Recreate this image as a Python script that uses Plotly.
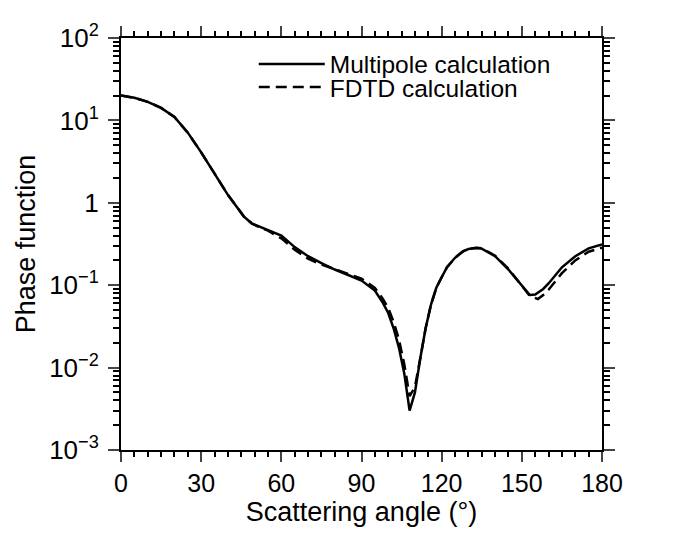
import numpy as np
import plotly.graph_objects as go

# Scattering angle (degrees)
angle_multipole = [0, 5, 10, 15, 20, 25, 30, 35, 40, 43, 46, 49, 52, 55, 60, 65, 70, 75, 80, 85, 90,
                   95, 98, 100, 102, 104, 106, 108, 110, 112, 114, 116, 118, 120, 122, 125,
                   128, 130, 133, 135, 140, 145, 150, 153, 155, 158, 160, 165, 170, 175, 180]
phase_multipole = [20.0, 18.8, 16.8, 14.2, 11.0, 7.1, 4.1, 2.25, 1.25, 0.92, 0.68, 0.56, 0.51, 0.475, 0.40,
                   0.29, 0.225, 0.185, 0.155, 0.133, 0.114, 0.086, 0.061, 0.046, 0.030, 0.0175,
                   0.0085, 0.0030, 0.0050, 0.013, 0.030, 0.058, 0.093, 0.125, 0.165, 0.215,
                   0.258, 0.275, 0.283, 0.278, 0.225, 0.155, 0.100, 0.076, 0.077, 0.090, 0.105,
                   0.165, 0.225, 0.280, 0.312]

angle_fdtd = [0, 5, 10, 15, 20, 25, 30, 35, 40, 43, 46, 49, 52, 55, 60, 65, 70, 75, 80, 85, 90,
              95, 98, 100, 102, 104, 106, 108, 110, 112, 114, 116, 118, 120, 122, 125,
              128, 130, 133, 135, 140, 145, 150, 153, 156, 158, 160, 165, 170, 175, 180]
phase_fdtd = [20.0, 18.8, 16.8, 14.2, 11.0, 7.1, 4.1, 2.25, 1.25, 0.92, 0.68, 0.56, 0.50, 0.46, 0.37,
              0.27, 0.21, 0.178, 0.155, 0.137, 0.120, 0.093, 0.068, 0.053, 0.036, 0.022,
              0.011, 0.0045, 0.0058, 0.013, 0.030, 0.058, 0.093, 0.125, 0.165, 0.215,
              0.258, 0.276, 0.285, 0.280, 0.228, 0.158, 0.100, 0.074, 0.068, 0.076, 0.088,
              0.140, 0.200, 0.255, 0.286]

x_ticks = [0, 30, 60, 90, 120, 150, 180]
y_tickvals = [1e2, 1e1, 1, 1e-1, 1e-2, 1e-3]
y_ticktext = ["10<sup>2</sup>", "10<sup>1</sup>", "1", "10<sup>\u22121</sup>",
              "10<sup>\u22122</sup>", "10<sup>\u22123</sup>"]

FONT = "Liberation Sans, Arial, sans-serif"

fig = go.Figure()
fig.add_trace(go.Scatter(x=angle_multipole, y=phase_multipole, mode="lines",
                         name="Multipole calculation", legend="legend",
                         line=dict(color="black", width=2.5)))
fig.add_trace(go.Scatter(x=angle_fdtd, y=phase_fdtd, mode="lines",
                         name="FDTD calculation", legend="legend2",
                         line=dict(color="black", width=2.5, dash="11px,6px")))

minor_y = [m * 10.0 ** e for e in range(-3, 2) for m in range(2, 10)]

leg_common = dict(xanchor="left", yanchor="middle", bgcolor="rgba(0,0,0,0)",
                  font=dict(size=24.5), itemwidth=66)

fig.update_layout(
    width=680, height=535,
    margin=dict(l=113, r=86, t=13, b=93),
    paper_bgcolor="white", plot_bgcolor="white",
    font=dict(family=FONT, size=25, color="black"),
    showlegend=True,
    legend=dict(x=0.276, y=0.937, **leg_common),
    legend2=dict(x=0.276, y=0.881, **leg_common),
    xaxis=dict(range=[0, 180], tickvals=x_ticks, ticks="outside", ticklen=10,
               tickwidth=2, showline=True, linewidth=2, linecolor="black",
               mirror="ticks", showgrid=False, zeroline=False,
               tickfont=dict(size=25),
               title=dict(text="Scattering angle (\u00b0)", font=dict(size=27), standoff=3),
               minor=dict(dtick=5, ticks="outside", ticklen=5, tickwidth=1.5,
                          tickcolor="black", showgrid=False)),
    yaxis=dict(type="log", range=[-3, 2], tickvals=y_tickvals, ticktext=y_ticktext,
               ticks="outside", ticklen=11, tickwidth=2, showline=True, linewidth=2,
               linecolor="black", mirror="ticks", showgrid=False, zeroline=False,
               tickfont=dict(size=26), ticklabelstandoff=4,
               minor=dict(tickvals=minor_y, ticks="outside", ticklen=6, tickwidth=1.5,
                          tickcolor="black", showgrid=False)),
    annotations=[dict(text="Phase function", textangle=-90, xref="paper", yref="paper",
                      x=-0.197, y=0.5, xanchor="center", yanchor="middle",
                      showarrow=False, font=dict(size=27))],
)

fig.write_html("out.html")
